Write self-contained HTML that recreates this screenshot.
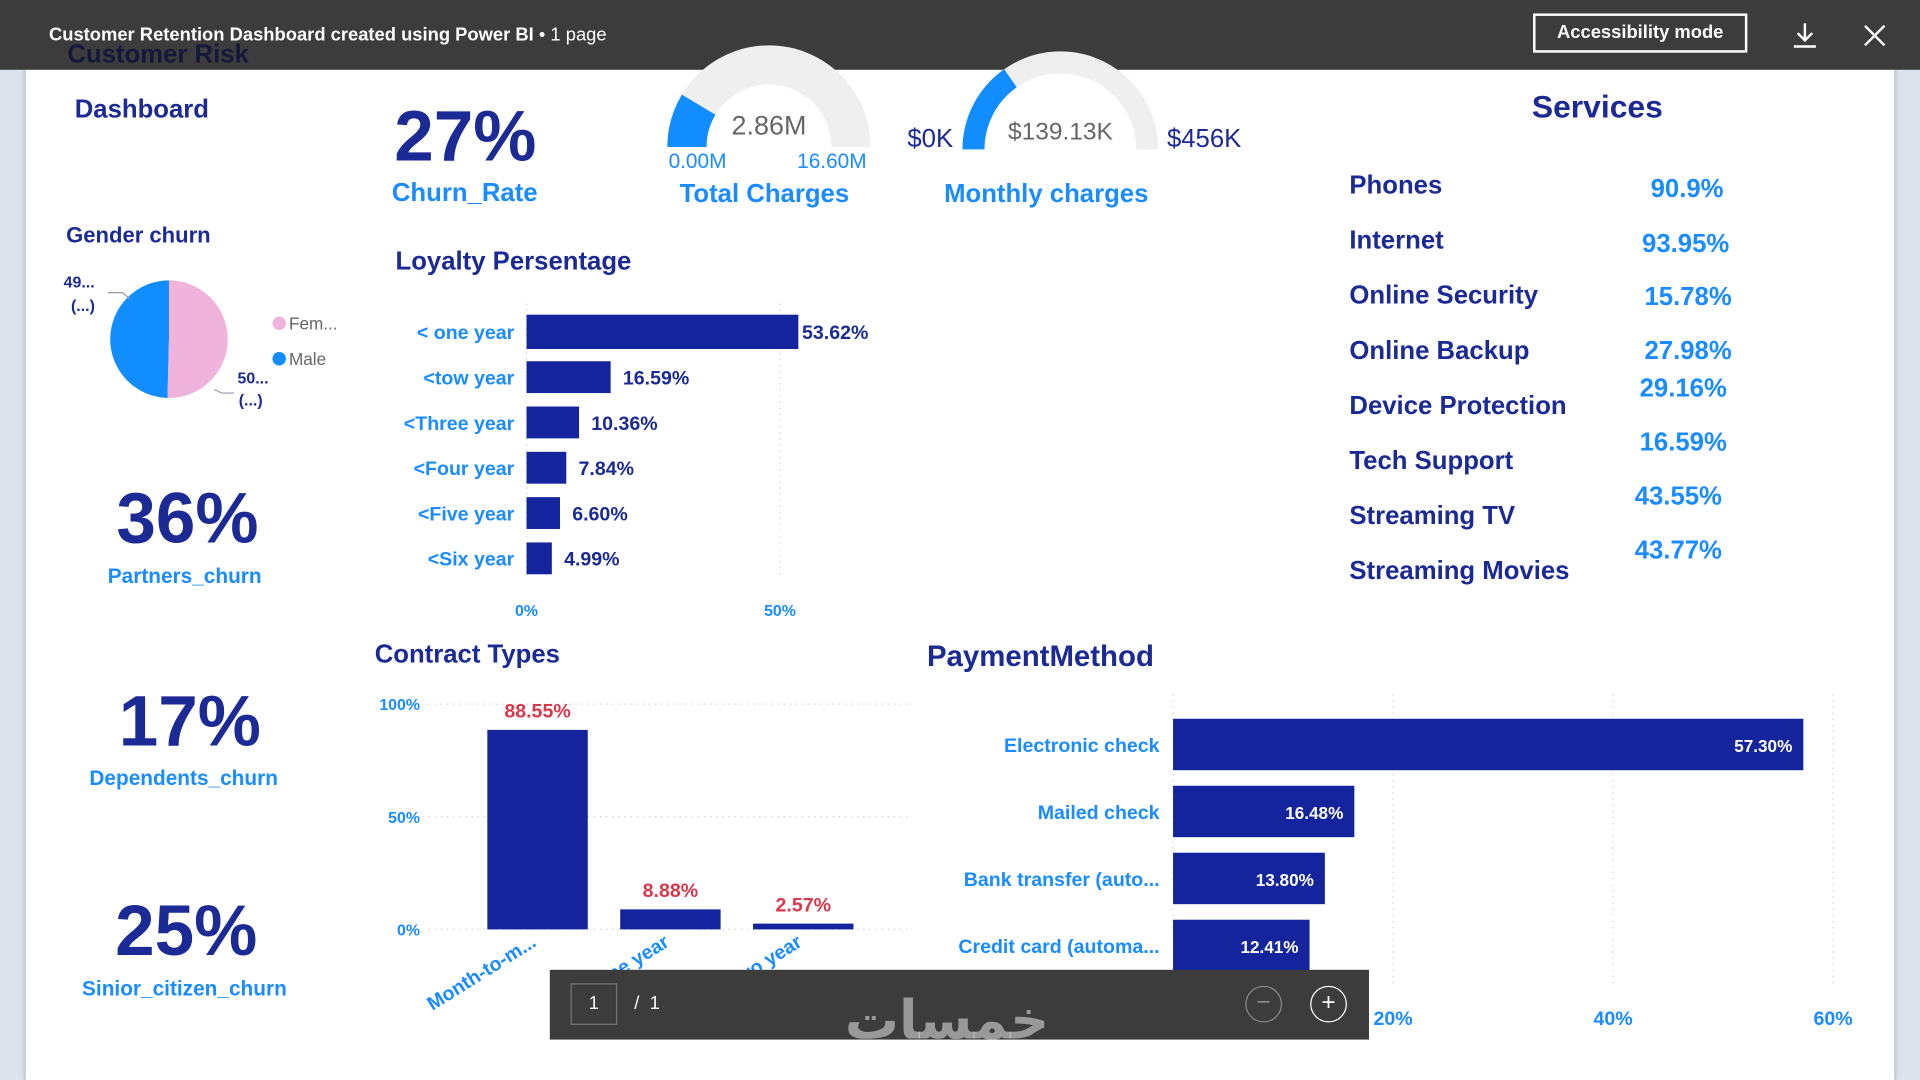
<!DOCTYPE html>
<html><head><meta charset="utf-8">
<style>
html,body{margin:0;padding:0;width:1920px;height:1080px;overflow:hidden;background:#dfe3ec;font-family:"Liberation Sans","Noto Sans CJK SC",sans-serif;}
#stage{position:absolute;left:0;top:0;width:1568px;height:882px;transform:scale(1.22449);transform-origin:0 0;background:#dde2ec;}
.abs{position:absolute;white-space:nowrap;}
.b{font-weight:bold;}
.navy{color:#1b2a94;}
.lb{color:#1a8cff;}
</style></head><body>
<div id="stage">
  <div class="abs" style="left:21px;top:0;width:1526px;height:882px;background:#fff;box-shadow:0 0 4px rgba(0,0,0,.3);"></div>
  <div class="abs" style="left:0;top:0;width:1568px;height:57px;background:#3c3c3c;"></div>
  <div class="abs" style="left:40px;top:20px;color:#fff;font-size:15px;font-weight:bold;">Customer Retention Dashboard created using Power BI <span style="font-weight:normal">• 1 page</span></div>
  <div class="abs b" style="left:55px;top:33px;color:#15183a;font-size:21px;">Customer Risk</div>
  <div class="abs b" style="left:1252px;top:11px;width:175px;height:32px;border:2px solid #fff;box-sizing:border-box;color:#fff;font-size:15px;line-height:28px;text-align:center;">Accessibility mode</div>
  <svg class="abs" style="left:1462px;top:17px" width="24" height="24" viewBox="0 0 24 24"><path d="M12 2v13M6 10l6 6 6-6M3 21h18" stroke="#fff" stroke-width="2" fill="none"/></svg>
  <svg class="abs" style="left:1520px;top:18px" width="22" height="22" viewBox="0 0 22 22"><path d="M3 3l16 16M19 3L3 19" stroke="#fff" stroke-width="2"/></svg>

  <div class="abs b navy" style="left:61px;top:78px;font-size:21px;">Dashboard</div>

  <!-- KPIs -->
  <div class="abs b navy" style="left:322px;top:78px;font-size:58px;">27%</div>
  <div class="abs b lb" style="left:320px;top:146px;font-size:21px;">Churn_Rate</div>

  <!-- Gauges -->
  <svg class="abs" style="left:530px;top:20px" width="200" height="110">
    <path id="g1bg" d="" fill="#efefef"/><path id="g1fg" d="" fill="#118dff"/>
    <text x="98" y="90" font-size="22" fill="#666" text-anchor="middle" font-family="Liberation Sans">2.86M</text>
  </svg>
  <div class="abs lb" style="left:546px;top:122px;font-size:17px;">0.00M</div>
  <div class="abs lb" style="left:651px;top:122px;font-size:17px;">16.60M</div>
  <div class="abs b lb" style="left:555px;top:147px;font-size:21px;">Total Charges</div>

  <svg class="abs" style="left:770px;top:20px" width="200" height="110">
    <path id="g2bg" d="" fill="#efefef"/><path id="g2fg" d="" fill="#118dff"/>
    <text x="96" y="94" font-size="20" fill="#666" text-anchor="middle" font-family="Liberation Sans">$139.13K</text>
  </svg>
  <div class="abs navy" style="left:741px;top:102px;font-size:21px;">$0K</div>
  <div class="abs navy" style="left:953px;top:102px;font-size:21px;">$456K</div>
  <div class="abs b lb" style="left:771px;top:147px;font-size:21px;">Monthly charges</div>

  <!-- Gender pie -->
  <div class="abs b navy" style="left:54px;top:182px;font-size:18px;">Gender churn</div>
  <svg class="abs" style="left:40px;top:215px" width="250" height="130">
    <path id="pieM" fill="#118dff"/>
    <path id="pieF" fill="#f0b4dc"/>
    <path d="M48 24h12l6 5" stroke="#99a" fill="none"/>
    <path d="M135 103l6 3h10" stroke="#99a" fill="none"/>
    <text x="12" y="20" font-size="13" font-weight="bold" fill="#1b2a94">49...</text>
    <text x="18" y="39" font-size="13" font-weight="bold" fill="#1b2a94">(...)</text>
    <text x="154" y="98" font-size="13" font-weight="bold" fill="#1b2a94">50...</text>
    <text x="155" y="116" font-size="13" font-weight="bold" fill="#1b2a94">(...)</text>
    <circle cx="188" cy="49" r="5.5" fill="#f0b4dc"/><text x="196" y="54" font-size="14" fill="#666">Fem...</text>
    <circle cx="188" cy="78" r="5.5" fill="#118dff"/><text x="196" y="83" font-size="14" fill="#666">Male</text>
  </svg>

  <div class="abs b navy" style="left:95px;top:390px;font-size:58px;">36%</div>
  <div class="abs b lb" style="left:88px;top:461px;font-size:17px;">Partners_churn</div>
  <div class="abs b navy" style="left:97px;top:556px;font-size:58px;">17%</div>
  <div class="abs b lb" style="left:73px;top:626px;font-size:17px;">Dependents_churn</div>
  <div class="abs b navy" style="left:94px;top:727px;font-size:58px;">25%</div>
  <div class="abs b lb" style="left:67px;top:798px;font-size:17px;">Sinior_citizen_churn</div>

  <!-- Loyalty -->
  <div class="abs b navy" style="left:323px;top:202px;font-size:21px;">Loyalty Persentage</div>
  <svg id="loyalty" class="abs" style="left:0;top:0" width="760" height="520"></svg>

  <!-- Services -->
  <div class="abs b navy" style="left:1251px;top:72px;font-size:26px;">Services</div>
  <div id="services"></div>

  <!-- Contract -->
  <div class="abs b navy" style="left:306px;top:523px;font-size:21px;">Contract Types</div>
  <svg id="contract" class="abs" style="left:0;top:0" width="760" height="882"></svg>

  <!-- Payment -->
  <div class="abs b navy" style="left:757px;top:523px;font-size:24px;">PaymentMethod</div>
  <svg id="payment" class="abs" style="left:0;top:0" width="1568" height="882"></svg>

  <!-- bottom overlay -->
  <div class="abs" style="left:449px;top:792px;width:669px;height:57px;background:#3c3c3c;"></div>
  <div class="abs" style="left:466px;top:803px;width:38px;height:34px;border:1px solid #777;box-sizing:border-box;color:#fff;font-size:15px;text-align:center;line-height:32px;">1</div>
  <div class="abs" style="left:518px;top:811px;color:#fff;font-size:15px;">/&nbsp;&nbsp;1</div>
  <div class="abs" style="left:1017px;top:805px;width:30px;height:30px;border:1px solid #888;border-radius:50%;box-sizing:border-box;color:#888;text-align:center;line-height:27px;font-size:20px;">−</div>
  <div class="abs" style="left:1070px;top:805px;width:30px;height:30px;border:1px solid #fff;border-radius:50%;box-sizing:border-box;color:#fff;text-align:center;line-height:27px;font-size:20px;">+</div>
  <div class="abs b" style="left:690px;top:808px;color:rgba(230,230,230,.55);font-size:44px;font-family:'DejaVu Sans',sans-serif;">خمسات</div>
</div>
<script>
var NS="http://www.w3.org/2000/svg";
function mk(p,tag,attrs,txt){var e=document.createElementNS(NS,tag);for(var k in attrs)e.setAttribute(k,attrs[k]);if(txt!=null)e.textContent=txt;p.appendChild(e);return e;}
function arc(cx,cy,ro,ri,a0,a1){ // angles in degrees from left(180) going clockwise toward right(0)
 function pt(r,a){var t=a*Math.PI/180;return [cx+r*Math.cos(t),cy-r*Math.sin(t)];}
 var p1=pt(ro,a0),p2=pt(ro,a1),p3=pt(ri,a1),p4=pt(ri,a0);
 return "M"+p1+" A"+ro+" "+ro+" 0 0 1 "+p2+" L"+p3+" A"+ri+" "+ri+" 0 0 0 "+p4+"Z";}
// gauges
var gaugeValues=[2.86,139.13];
var gaugeMax=[16.60,456];
function gauge(bg,fg,cx,cy,ro,ri,v,m){document.getElementById(bg).setAttribute("d",arc(cx,cy,ro,ri,180,0));document.getElementById(fg).setAttribute("d",arc(cx,cy,ro,ri,180,180-180*v/m));}
gauge("g1bg","g1fg",98,100,83,51,gaugeValues[0],gaugeMax[0]);
gauge("g2bg","g2fg",96,102,80,62,gaugeValues[1],gaugeMax[1]);
// pie
var genderLabels=["Male","Female"];
var genderValues=[49.6,50.4];
(function(){var cx=98,cy=62,r=48;var f=genderValues[0]/(genderValues[0]+genderValues[1]);
 var a=Math.PI*2*f;var ex=cx-r*Math.sin(a),ey=cy-r*Math.cos(a);
 document.getElementById("pieM").setAttribute("d","M"+cx+" "+cy+" L"+cx+" "+(cy-r)+" A"+r+" "+r+" 0 "+(f>.5?1:0)+" 0 "+ex+" "+ey+"Z");
 document.getElementById("pieF").setAttribute("d","M"+cx+" "+cy+" L"+ex+" "+ey+" A"+r+" "+r+" 0 "+(f>.5?0:1)+" 0 "+cx+" "+(cy-r)+"Z");})();

// loyalty
var loyaltyCats=["< one year","<tow year","<Three year","<Four year","<Five year","<Six year"];
var loyaltyVals=[53.62,16.59,10.36,7.84,6.60,4.99];
var loyaltyTicks=[0,50];
(function(){var s=document.getElementById("loyalty");
 function x(v){return 430+v*4.14;} function y(i){return 271+i*37;}
 loyaltyTicks.forEach(function(t){var l=mk(s,"line",{x1:x(t),x2:x(t),y1:248,y2:472,stroke:"#ccc","stroke-dasharray":"1 4"});
  var tx=mk(s,"text",{x:x(t),y:503,"font-size":13,"font-weight":"bold",fill:"#1a8cff","text-anchor":"middle"},t+"%");
  
  });
 loyaltyCats.forEach(function(c,i){var h=i==0?28:26;
  var r=mk(s,"rect",{x:x(0),y:y(i)-h/2,width:x(loyaltyVals[i])-x(0),height:h,fill:"#13249c"});
  
  
  mk(s,"text",{x:420,y:y(i)+6,"font-size":16,"font-weight":"bold",fill:"#1a8cff","text-anchor":"end"},c);
  mk(s,"text",{x:x(loyaltyVals[i])+(i==0?3:10),y:y(i)+6,"font-size":16,"font-weight":"bold",fill:"#1b2a94"},loyaltyVals[i].toFixed(2)+"%");});})();

// services
var serviceNames=["Phones","Internet","Online Security","Online Backup","Device Protection","Tech Support","Streaming TV","Streaming Movies"];
var serviceVals=["90.9%","93.95%","15.78%","27.98%","29.16%","16.59%","43.55%","43.77%"];
(function(){var box=document.getElementById("services");
 var vx=[1348,1341,1343,1343,1339,1339,1335,1335],vy=[155,200,243,287,318,362,406,450];
 serviceNames.forEach(function(n,i){var d=document.createElement("div");d.className="abs b navy";d.style.cssText="left:1102px;top:"+(140+i*45)+"px;font-size:21px;";d.textContent=n;
  
  box.appendChild(d);
  var v=document.createElement("div");v.className="abs b lb";v.style.cssText="left:"+vx[i]+"px;top:"+(vy[i]-12)+"px;font-size:21px;";v.textContent=serviceVals[i];
  
  box.appendChild(v);});})();

// contract
var contractCats=["Month-to-m...","One year","Two year"];
var contractVals=[88.55,8.88,2.57];
var contractTicks=[0,50,100];
(function(){var s=document.getElementById("contract");
 function y(v){return 759-v*1.84;} function xc(i){return 439+i*108.5;}
 contractTicks.forEach(function(t){mk(s,"line",{x1:350,x2:742,y1:y(t),y2:y(t),stroke:"#ccc","stroke-dasharray":"1 4"});
  var tx=mk(s,"text",{x:343,y:y(t)+5,"font-size":13,"font-weight":"bold",fill:"#1a8cff","text-anchor":"end"},t+"%");
  
  });
 contractCats.forEach(function(c,i){var r=mk(s,"rect",{x:xc(i)-41,y:y(contractVals[i]),width:82,height:y(0)-y(contractVals[i]),fill:"#13249c"});
  
  
  mk(s,"text",{x:xc(i),y:y(contractVals[i])-10,"font-size":16,"font-weight":"bold",fill:"#d9374b","text-anchor":"middle"},contractVals[i].toFixed(2)+"%");
  mk(s,"text",{x:xc(i),y:772,"font-size":16,"font-weight":"bold",fill:"#1a8cff","text-anchor":"end",transform:"rotate(-32 "+xc(i)+" 772)"},c);});})();

// payment
var paymentCats=["Electronic check","Mailed check","Bank transfer (auto...","Credit card (automa..."];
var paymentVals=[57.30,16.48,13.80,12.41];
var paymentTicks=[0,20,40,60];
(function(){var s=document.getElementById("payment");
 function x(v){return 958+v*8.983;} function y(i){return 608+i*54.7;}
 paymentTicks.forEach(function(t){mk(s,"line",{x1:x(t),x2:x(t),y1:567,y2:805,stroke:"#ccc","stroke-dasharray":"1 4"});
  var tx=mk(s,"text",{x:x(t),y:837,"font-size":16,"font-weight":"bold",fill:"#1a8cff","text-anchor":"middle"},t+"%");
  
  });
 paymentCats.forEach(function(c,i){var r=mk(s,"rect",{x:x(0),y:y(i)-21,width:x(paymentVals[i])-x(0),height:42,fill:"#13249c"});
  
  
  mk(s,"text",{x:947,y:y(i)+6,"font-size":16,"font-weight":"bold",fill:"#1a8cff","text-anchor":"end"},c);
  mk(s,"text",{x:x(paymentVals[i])-9,y:y(i)+6,"font-size":14,"font-weight":"bold",fill:"#fff","text-anchor":"end"},paymentVals[i].toFixed(2)+"%");});})();
</script>
</body></html>
